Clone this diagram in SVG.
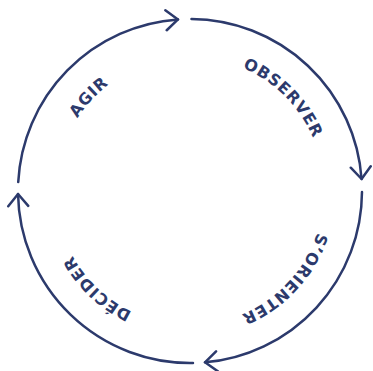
<svg xmlns="http://www.w3.org/2000/svg" xmlns:xlink="http://www.w3.org/1999/xlink" width="373" height="371" viewBox="0 0 373 371">
  <style>
    .arc { fill: none; stroke: #2c3a6c; stroke-width: 2.5; stroke-linecap: round; marker-end: url(#chev); }
    .lbl { font-family: "DejaVu Sans", "Liberation Sans", sans-serif; font-weight: bold; font-size: 16px; letter-spacing: 0.8px; fill: #2c3a6c; }
  </style>
  <defs>
    <marker id="chev" markerUnits="userSpaceOnUse" viewBox="-14 -12 16 24" markerWidth="16" markerHeight="24" refX="0" refY="0" orient="auto">
      <path d="M-12,-10 L0,0 L-12,10" fill="none" stroke="#2c3a6c" stroke-width="2.5" stroke-linecap="round" stroke-linejoin="round"/>
    </marker>
    <path id="ring" d="M190,57 A134,134 0 0 1 190,325 A134,134 0 0 1 190,57"/>
  </defs>
  <rect width="373" height="371" fill="#ffffff"/>
  <g id="connectors">
    <path class="arc" d="M191.5,19.01 A172,172 0 0 1 361.58,179"/>
    <path class="arc" d="M362,191.9 A172,172 0 0 1 204.99,362.34"/>
    <path class="arc" d="M193,362.97 A172,172 0 0 1 18.03,194"/>
    <path class="arc" d="M18.24,182 A172,172 0 0 1 178,19.42"/>
  </g>
  <g id="observer">
    <text class="lbl" text-anchor="middle"><textPath xlink:href="#ring" href="#ring" startOffset="12.5%">OBSERVER</textPath></text>
  </g>
  <g id="s-orienter">
    <text class="lbl" text-anchor="middle"><textPath xlink:href="#ring" href="#ring" startOffset="36.9%">S’ORIENTER</textPath></text>
  </g>
  <g id="decider">
    <text class="lbl" text-anchor="middle"><textPath xlink:href="#ring" href="#ring" startOffset="62.1%">DÉCIDER</textPath></text>
  </g>
  <g id="agir">
    <text class="lbl" text-anchor="middle"><textPath xlink:href="#ring" href="#ring" startOffset="86.9%">AGIR</textPath></text>
  </g>
</svg>
